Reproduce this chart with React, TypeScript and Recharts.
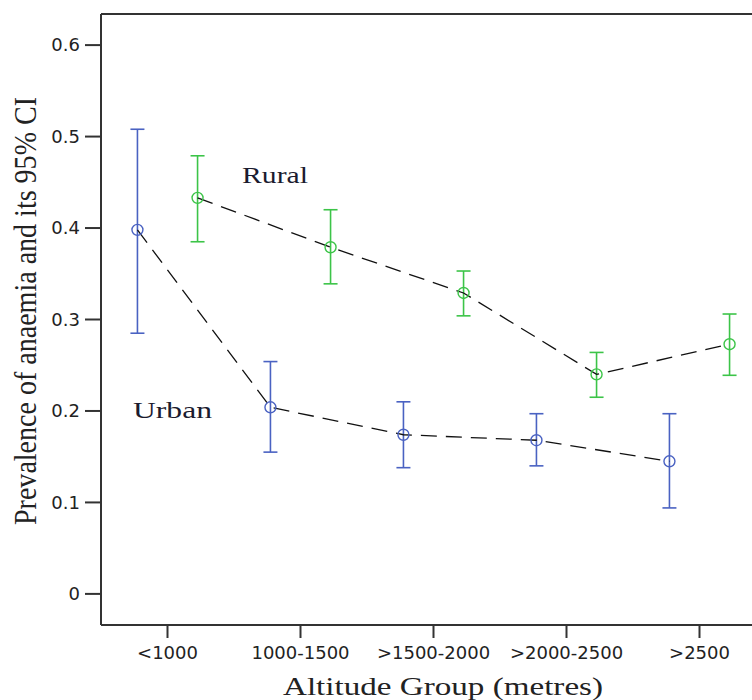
import { LineChart, Line, XAxis, YAxis, ErrorBar, ReferenceLine } from "recharts";

const categories = ["<1000", "1000-1500", ">1500-2000", ">2000-2500", ">2500"];

const urbanPrevalence = [0.398, 0.204, 0.174, 0.168, 0.145];
const urbanLower = [0.285, 0.155, 0.138, 0.14, 0.094];
const urbanUpper = [0.508, 0.254, 0.21, 0.197, 0.197];

const ruralPrevalence = [0.433, 0.379, 0.329, 0.24, 0.273];
const ruralLower = [0.385, 0.339, 0.304, 0.215, 0.239];
const ruralUpper = [0.479, 0.42, 0.353, 0.264, 0.306];

const yTicks = [0, 0.1, 0.2, 0.3, 0.4, 0.5, 0.6];

const URBAN = "#4a62c2";
const RURAL = "#3cc448";
const AXIS = "#333";
const Y_MIN = -0.034;
const Y_MAX = 0.634;
const DODGE = 0.226;

const toRows = (prev: number[], low: number[], high: number[], shift: number) =>
  prev.map((v, i) => ({ x: i + shift, y: v, err: [v - low[i], high[i] - v] }));

const urbanData = toRows(urbanPrevalence, urbanLower, urbanUpper, -DODGE);
const ruralData = toRows(ruralPrevalence, ruralLower, ruralUpper, DODGE);

const hollowDot = (color: string) => (p: any) => (
  <circle key={p.index} cx={p.cx} cy={p.cy} r={5.5} fill="none" stroke={color} strokeWidth={1.4} />
);

const tickFont = { fill: "#222", fontSize: 18, fontFamily: "DejaVu Sans" };

export default function App() {
  return (
    <div
      style={{
        position: "absolute",
        left: 0,
        top: 0,
        width: 752,
        height: 700,
        overflow: "hidden",
        background: "#fff",
      }}
    >
      <LineChart width={780} height={700} margin={{ top: 14, right: 14, bottom: 0, left: 0 }}>
        <XAxis
          type="number"
          dataKey="x"
          domain={[-0.5, 4.5]}
          ticks={[0, 1, 2, 3, 4]}
          tickFormatter={(v: number) => categories[v]}
          allowDataOverflow
          height={75}
          tickSize={13}
          tickMargin={8}
          tick={tickFont}
          axisLine={{ stroke: AXIS, strokeWidth: 2 }}
          tickLine={{ stroke: AXIS, strokeWidth: 2 }}
        />
        <YAxis
          type="number"
          domain={[Y_MIN, Y_MAX]}
          ticks={yTicks}
          allowDataOverflow
          width={101}
          tickSize={16}
          tickMargin={5}
          tickFormatter={(v: number) => (v === 0 ? "0" : v.toFixed(1))}
          tick={tickFont}
          axisLine={{ stroke: AXIS, strokeWidth: 2 }}
          tickLine={{ stroke: AXIS, strokeWidth: 2 }}
        />
        <ReferenceLine y={Y_MAX} stroke={AXIS} strokeWidth={2} />
        <Line
          data={urbanData}
          dataKey="y"
          stroke="#111"
          strokeWidth={1.3}
          strokeDasharray="16 9"
          dot={hollowDot(URBAN)}
          activeDot={false}
          isAnimationActive={false}
        >
          <ErrorBar dataKey="err" direction="y" width={7} stroke={URBAN} strokeWidth={1.6} />
        </Line>
        <Line
          data={ruralData}
          dataKey="y"
          stroke="#111"
          strokeWidth={1.3}
          strokeDasharray="16 9"
          dot={hollowDot(RURAL)}
          activeDot={false}
          isAnimationActive={false}
        >
          <ErrorBar dataKey="err" direction="y" width={7} stroke={RURAL} strokeWidth={1.6} />
        </Line>
      </LineChart>
      <svg
        width={752}
        height={700}
        style={{ position: "absolute", left: 0, top: 0, pointerEvents: "none" }}
      >
        <g fontFamily="Liberation Serif" fill="#1b1b2f">
          <text x={242} y={183} fontSize={23} textLength={66} lengthAdjust="spacingAndGlyphs">
            Rural
          </text>
          <text x={133} y={418} fontSize={23} textLength={79} lengthAdjust="spacingAndGlyphs">
            Urban
          </text>
        </g>
        <text
          x={283}
          y={695}
          fontFamily="Liberation Serif"
          fontSize={25}
          fill="#222"
          textLength={320}
          lengthAdjust="spacingAndGlyphs"
        >
          Altitude Group (metres)
        </text>
        <text
          transform="translate(36,311) scale(1.3,1) rotate(-90)"
          textAnchor="middle"
          fontFamily="Liberation Serif"
          fontSize={24}
          fill="#222"
          textLength={428}
          lengthAdjust="spacingAndGlyphs"
        >
          Prevalence of anaemia and its 95% CI
        </text>
      </svg>
    </div>
  );
}
